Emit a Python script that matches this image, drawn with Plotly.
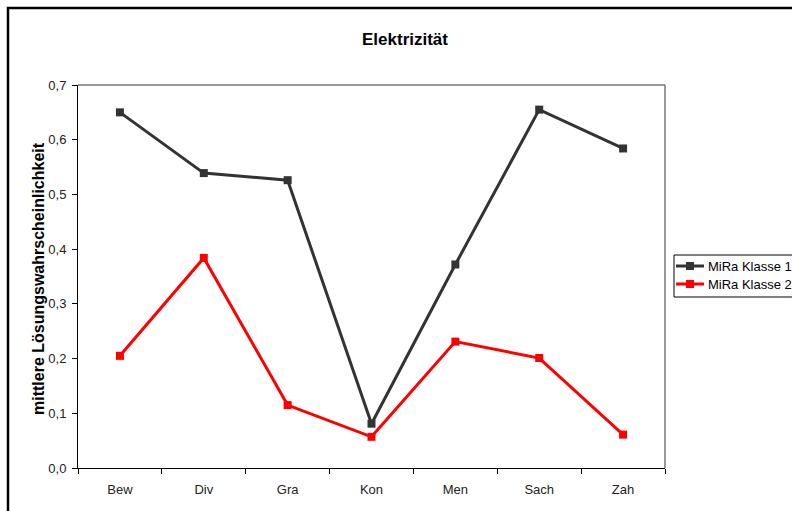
import plotly.graph_objects as go

categories = ["Bew", "Div", "Gra", "Kon", "Men", "Sach", "Zah"]
klasse1 = [0.650, 0.539, 0.526, 0.081, 0.372, 0.655, 0.584]
klasse2 = [0.205, 0.384, 0.115, 0.057, 0.231, 0.201, 0.061]
series_names = ["MiRa Klasse 1", "MiRa Klasse 2"]
series_colors = ["#333333", "#ff0000"]
y_ticks = [0.0, 0.1, 0.2, 0.3, 0.4, 0.5, 0.6, 0.7]
y_tick_labels = ["0,0", "0,1", "0,2", "0,3", "0,4", "0,5", "0,6", "0,7"]

FONT = "Liberation Sans, Arial, sans-serif"

fig = go.Figure()
for name, vals, col in zip(series_names, [klasse1, klasse2], series_colors):
    fig.add_trace(go.Scatter(
        x=categories, y=vals, name=name, mode="lines+markers",
        line=dict(color=col, width=3),
        marker=dict(symbol="square", size=8, color=col),
        showlegend=False,
    ))

W, H = 792, 511
L, R, T, B = 78, 665, 85, 468
pw, ph = R - L, B - T

def px(x):
    return (x - L) / pw

def py(y):
    return (B - y) / ph

shapes = [
    dict(type="line", xref="paper", yref="paper", x0=0, x1=1, y0=1, y1=1,
         line=dict(color="#777777", width=1.5), layer="below"),
    dict(type="line", xref="paper", yref="paper", x0=1, x1=1, y0=0, y1=1,
         line=dict(color="#777777", width=1.5), layer="below"),
    dict(type="rect", xref="paper", yref="paper",
         x0=px(8), x1=px(820), y0=py(540), y1=py(8),
         line=dict(color="#000000", width=2.5), fillcolor="rgba(0,0,0,0)",
         layer="below"),
    # legend box
    dict(type="rect", xref="paper", yref="paper",
         x0=px(674), x1=px(830), y0=py(297), y1=py(255),
         line=dict(color="#000000", width=1), fillcolor="white", layer="above"),
]
annotations = [
    dict(text="<b>mittlere Lösungswahrscheinlichkeit</b>", textangle=-90,
         xref="paper", yref="paper", x=px(38), y=py(279),
         xanchor="center", yanchor="middle", showarrow=False,
         font=dict(size=16, color="#000000", family=FONT)),
]
legend_rows_y = [266, 284]
for name, col, ly in zip(series_names, series_colors, legend_rows_y):
    shapes.append(dict(type="line", xref="paper", yref="paper",
                       x0=px(676), x1=px(704), y0=py(ly), y1=py(ly),
                       line=dict(color=col, width=3), layer="above"))
    shapes.append(dict(type="rect", xref="paper", yref="paper",
                       x0=px(686), x1=px(694), y0=py(ly + 4), y1=py(ly - 4),
                       line=dict(width=0), fillcolor=col, layer="above"))
    annotations.append(dict(text=name, xref="paper", yref="paper",
                            x=px(706), y=py(ly), xanchor="left", yanchor="middle",
                            showarrow=False,
                            font=dict(size=13, color="#000000", family=FONT)))

fig.update_layout(
    width=W, height=H,
    margin=dict(l=L, r=W - R, t=T, b=H - B, pad=0, autoexpand=False),
    paper_bgcolor="white", plot_bgcolor="white",
    font=dict(family=FONT, size=13, color="#222222"),
    title=dict(text="<b>Elektrizität</b>", x=405 / W, xanchor="center",
               y=1 - 39 / H, yanchor="middle",
               font=dict(size=17, color="#000000", family=FONT)),
    showlegend=False,
    xaxis=dict(
        type="category", categoryorder="array", categoryarray=categories,
        range=[-0.5, len(categories) - 0.5],
        showgrid=False, zeroline=False,
        showline=True, linecolor="#000000", linewidth=1,
        ticks="outside", tickson="boundaries", ticklen=5, tickcolor="#000000",
        ticklabelstandoff=9,
        tickfont=dict(size=13, color="#222222"),
    ),
    yaxis=dict(
        range=[0, 0.7], tickvals=y_ticks, ticktext=y_tick_labels,
        showgrid=False, zeroline=False,
        showline=True, linecolor="#000000", linewidth=1,
        ticks="outside", ticklen=5, tickcolor="#000000",
        ticklabelstandoff=3,
        tickfont=dict(size=13, color="#222222"),
    ),
    annotations=annotations,
    shapes=shapes,
)

fig.write_html("out.html")
